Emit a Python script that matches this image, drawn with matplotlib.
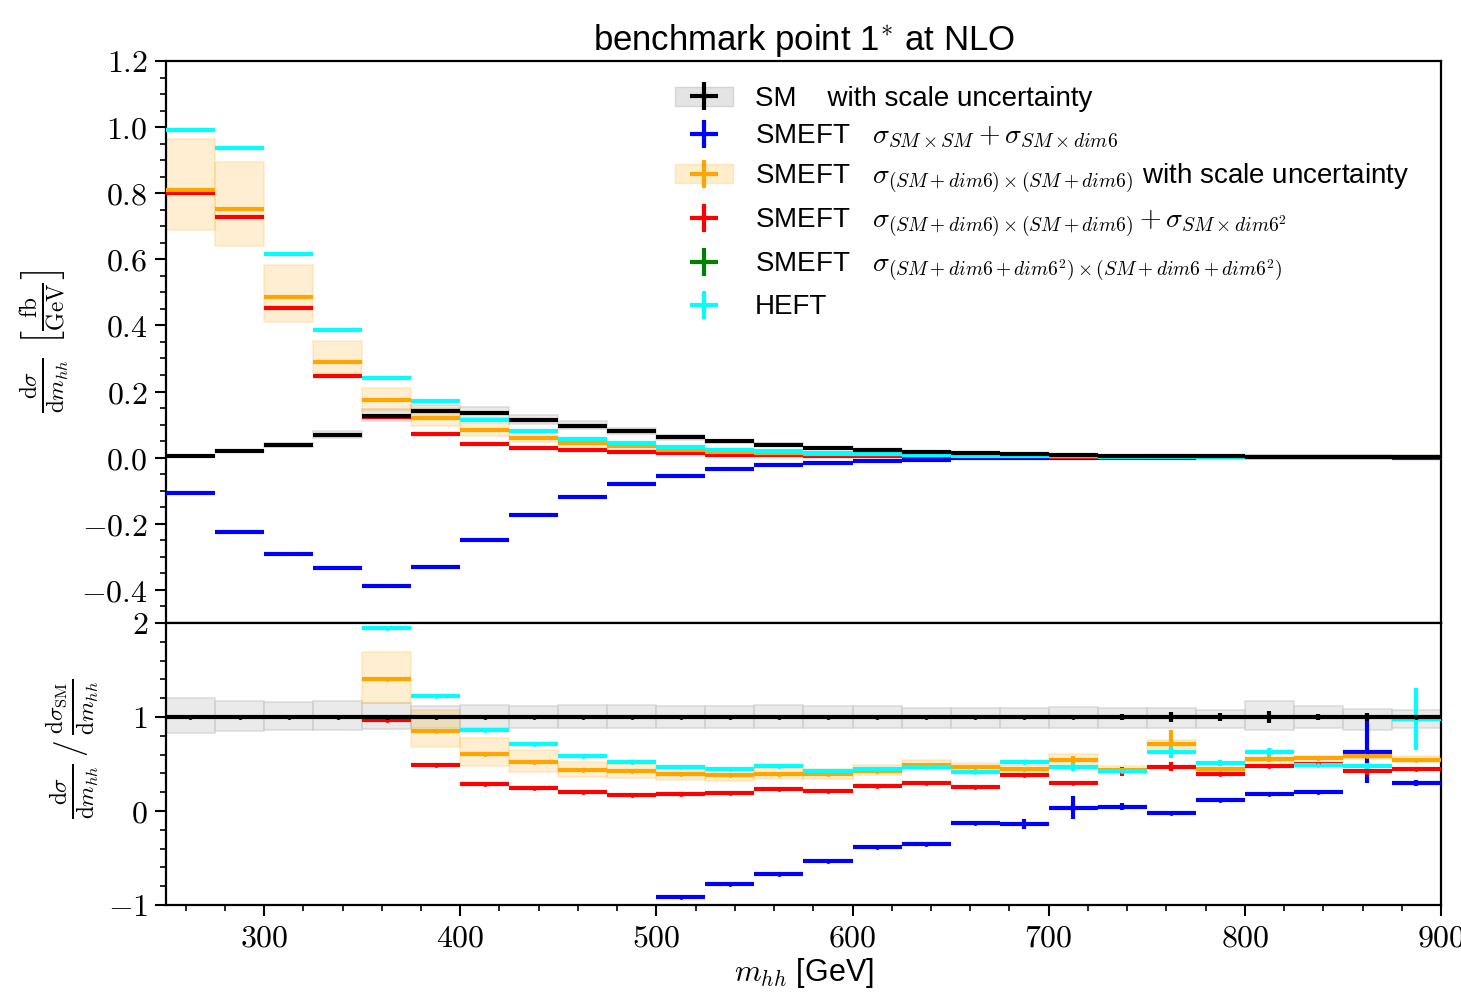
import numpy as np
import matplotlib
matplotlib.use("Agg")
import matplotlib.pyplot as plt
from matplotlib.patches import Patch
from matplotlib.ticker import MultipleLocator, FuncFormatter

plt.rcParams['font.family'] = ['Liberation Sans', 'DejaVu Sans']
plt.rcParams['mathtext.fontset'] = 'cm'

# bins of m_hh (GeV), 25 GeV wide
edges = np.arange(250, 901, 25)
centers = 0.5 * (edges[:-1] + edges[1:])
nan = np.nan

# upper panel: dsigma/dm_hh [fb/GeV]
sm_top = [0.006, 0.019, 0.039, 0.070, 0.127, 0.141, 0.135, 0.115, 0.097, 0.080,
          0.062, 0.049, 0.039, 0.030, 0.023, 0.018, 0.014, 0.011, 0.008, 0.0065,
          0.005, 0.004, 0.003, 0.0024, 0.0018, 0.0014]
lin_top = [-0.106, -0.226, -0.291, -0.333, -0.389, -0.332, -0.250, -0.172, -0.119, -0.079,
           -0.054, -0.034, -0.021, -0.016, -0.009, -0.0064, -0.0018, -0.0015, 0.0003, 0.0003,
           -0.0001, 0.0005, 0.0005, 0.0005, 0.001, 0.0004]
quad_top = [0.810, 0.752, 0.485, 0.290, 0.173, 0.120, 0.083, 0.060, 0.044, 0.034,
            0.024, 0.0186, 0.015, 0.0117, 0.0100, 0.0088, 0.0066, 0.0050, 0.0043, 0.0029,
            0.0036, 0.0018, 0.0016, 0.0013, 0.0011, 0.0008]
quadsq_top = [0.800, 0.728, 0.453, 0.246, 0.123, 0.0725, 0.041, 0.029, 0.022, 0.016,
              0.014, 0.009, 0.008, 0.0063, 0.0062, 0.0054, 0.0036, 0.0042, 0.0024, 0.0027,
              0.0024, 0.0016, 0.0014, 0.0012, 0.0008, 0.0006]
heft_top = [0.990, 0.936, 0.617, 0.385, 0.241, 0.170, 0.115, 0.080, 0.057, 0.044,
            0.031, 0.023, 0.021, 0.013, 0.0104, 0.0085, 0.0057, 0.0057, 0.0038, 0.0028,
            0.0032, 0.0020, 0.0019, 0.0012, 0.0009, 0.0014]

# scale uncertainties (relative up / down)
sm_up = [0.20, 0.175, 0.16, 0.17, 0.15, 0.12, 0.13, 0.12, 0.13, 0.13, 0.12, 0.12, 0.13,
         0.12, 0.12, 0.10, 0.10, 0.10, 0.11, 0.10, 0.10, 0.075, 0.165, 0.12, 0.09, 0.07]
sm_dn = [0.17, 0.15, 0.14, 0.14, 0.13, 0.12, 0.12, 0.12, 0.12, 0.12, 0.12, 0.12, 0.12,
         0.12, 0.12, 0.12, 0.12, 0.12, 0.12, 0.12, 0.12, 0.12, 0.14, 0.12, 0.14, 0.12]
quad_up = [0.19, 0.19, 0.20, 0.22, 0.21, 0.26, 0.28, 0.25, 0.18, 0.18, 0.17, 0.17, 0.16,
           0.15, 0.14, 0.10, 0.08, 0.08, 0.12, 0.08, 0.07, 0.05, 0.05, 0.04, 0.06, 0.08]
quad_dn = [0.15, 0.15, 0.155, 0.12, 0.18, 0.20, 0.21, 0.21, 0.18, 0.16, 0.15, 0.15, 0.14,
           0.13, 0.12, 0.09, 0.08, 0.08, 0.12, 0.08, 0.07, 0.05, 0.05, 0.04, 0.06, 0.05]

# lower panel: ratio to SM
lin_r = [nan] * 10 + [-0.91, -0.78, -0.67, -0.53, -0.38, -0.355, -0.125, -0.14, 0.035, 0.046,
                      -0.025, 0.115, 0.18, 0.20, 0.63, 0.30]
quad_r = [nan] * 4 + [1.40, 0.85, 0.61, 0.52, 0.44, 0.42, 0.39, 0.38, 0.39, 0.39, 0.43, 0.49,
                      0.47, 0.45, 0.54, 0.44, 0.71, 0.45, 0.55, 0.56, 0.59, 0.545]
quadsq_r = [nan] * 4 + [0.97, 0.49, 0.29, 0.24, 0.20, 0.17, 0.18, 0.19, 0.23, 0.21, 0.27, 0.30,
                        0.26, 0.38, 0.30, 0.42, 0.47, 0.39, 0.48, 0.50, 0.42, 0.45]
heft_r = [nan] * 4 + [1.95, 1.22, 0.86, 0.71, 0.59, 0.52, 0.47, 0.45, 0.48, 0.43, 0.45, 0.47,
                      0.41, 0.52, 0.47, 0.43, 0.63, 0.51, 0.63, 0.49, 0.48, 0.975]

# statistical errors on the ratios
sm_err = [0.005] * 15 + [0.01, 0.015, 0.015, 0.02, 0.03, 0.05, 0.04, 0.065, 0.03, 0.045, 0.02]
lin_err = [0.01] * 15 + [0.02, 0.01, 0.05, 0.12, 0.04, 0.01, 0.02, 0.02, 0.01, 0.33, 0.03]
quad_err = [0.01] * 18 + [0.05, 0.02, 0.15, 0.02, 0.03, 0.02, 0.03, 0.02]
quadsq_err = [0.01] * 19 + [0.05, 0.05, 0.02, 0.02, 0.02, 0.04, 0.02]
heft_err = [0.01] * 18 + [0.04, 0.02, 0.06, 0.03, 0.04, 0.02, 0.03, 0.33]

width = 25.0
lw = 3.0

fig = plt.figure(figsize=(14.61, 9.98), dpi=100)
ax1 = fig.add_axes([0.1136, 0.3758, 0.8727, 0.5631])
ax2 = fig.add_axes([0.1136, 0.0932, 0.8727, 0.2826], sharex=ax1)


def band(ax, y, lo, hi, color, ecolor, alpha):
    y = np.asarray(y, float)
    lo_v = y * (1 - np.asarray(lo))
    hi_v = y * (1 + np.asarray(hi))
    ok = ~np.isnan(y)
    ax.bar(centers[ok], (hi_v - lo_v)[ok], bottom=lo_v[ok], width=width,
           color=color, alpha=alpha, edgecolor=ecolor, linewidth=1.2, zorder=1)


def steps(ax, y, err, color, marker=None, z=3):
    return ax.errorbar(centers, y, xerr=width / 2, yerr=err, fmt='none' if marker is None else marker,
                       color=color, ecolor=color, elinewidth=lw, markersize=5, capsize=0, zorder=z)


# upper panel
band(ax1, sm_top, sm_dn, sm_up, '#d9d9d9', '#c8c8c8', 0.55)
band(ax1, quad_top, quad_dn, quad_up, '#ffa500', '#ffa500', 0.18)
steps(ax1, lin_top, 0.0, 'blue')
steps(ax1, quadsq_top, 0.0, 'red')
steps(ax1, quad_top, 0.0, 'orange')
steps(ax1, heft_top, 0.0, 'cyan')
steps(ax1, sm_top, 0.0, 'black', z=4)

# lower panel
band(ax2, np.ones(len(centers)), sm_dn, sm_up, '#d9d9d9', '#c8c8c8', 0.55)
band(ax2, quad_r, quad_dn, quad_up, '#ffa500', '#ffa500', 0.18)
h_lin = steps(ax2, lin_r, lin_err, 'blue', '.')
h_qsq = steps(ax2, quadsq_r, quadsq_err, 'red', '.')
h_quad = steps(ax2, quad_r, quad_err, 'orange', '.')
h_heft = steps(ax2, heft_r, heft_err, 'cyan', '.')
h_sm = steps(ax2, np.ones(len(centers)), sm_err, 'black', '.', z=4)
h_green = ax2.errorbar([nan], [nan], xerr=width / 2, yerr=0.1, fmt='none',
                       ecolor='green', elinewidth=lw)

ax1.set_xlim(250, 900)
ax1.set_ylim(-0.5, 1.2)
ax2.set_ylim(-1, 2)

ax1.yaxis.set_major_locator(MultipleLocator(0.2))
ax1.yaxis.set_minor_locator(MultipleLocator(0.05))
ax1.yaxis.set_major_formatter(FuncFormatter(lambda v, p: f"${v:.1f}$"))
ax2.yaxis.set_major_locator(MultipleLocator(1))
ax2.yaxis.set_minor_locator(MultipleLocator(0.2))
ax2.yaxis.set_major_formatter(FuncFormatter(lambda v, p: f"${v:.0f}$"))
ax2.xaxis.set_major_locator(MultipleLocator(100))
ax2.xaxis.set_minor_locator(MultipleLocator(20))
ax2.xaxis.set_major_formatter(FuncFormatter(lambda v, p: f"${v:.0f}$"))

for ax in (ax1, ax2):
    for s in ax.spines.values():
        s.set_linewidth(1.6)
    ax.tick_params(which='major', direction='out', length=8, width=1.5, labelsize=23, pad=5)
    ax.tick_params(which='minor', direction='out', length=4, width=1.2)
ax1.tick_params(axis='x', which='both', length=0, labelbottom=False)

ax2.set_xlabel(r"$m_{hh}$ [GeV]", fontsize=22, labelpad=2)
fig.text(0.031, 0.658, r"$\frac{\mathrm{d}\sigma}{\mathrm{d}m_{hh}}\ \left[\frac{\mathrm{fb}}{\mathrm{GeV}}\right]$",
         rotation=90, ha='center', va='center', fontsize=24)
fig.text(0.050, 0.25, r"$\frac{\mathrm{d}\sigma}{\mathrm{d}m_{hh}}\,/\,\frac{\mathrm{d}\sigma_{\mathrm{SM}}}{\mathrm{d}m_{hh}}$",
         rotation=90, ha='center', va='center', fontsize=24)
ax1.set_title(r"benchmark point 1$^{*}$ at NLO", fontsize=25, pad=8)

gray_patch = Patch(facecolor='#d9d9d9', edgecolor='#c8c8c8', alpha=0.7)
orange_patch = Patch(facecolor='#ffa500', edgecolor='#ffa500', alpha=0.2)
handles = [(gray_patch, h_sm), h_lin, (orange_patch, h_quad), h_qsq, h_green, h_heft]
labels = [r"SM    with scale uncertainty",
          r"SMEFT   $\sigma_{SM\times SM}+\sigma_{SM\times dim6}$",
          r"SMEFT   $\sigma_{(SM+dim6)\times(SM+dim6)}$ with scale uncertainty",
          r"SMEFT   $\sigma_{(SM+dim6)\times(SM+dim6)}+\sigma_{SM\times dim6^2}$",
          r"SMEFT   $\sigma_{(SM+dim6+dim6^2)\times(SM+dim6+dim6^2)}$",
          r"HEFT"]
ax1.legend(handles, labels, loc='upper right', bbox_to_anchor=(0.995, 1.0), frameon=False,
           fontsize=20, handlelength=2.1, labelspacing=0.4, handletextpad=0.8)

fig.savefig("out.png", dpi=100)
